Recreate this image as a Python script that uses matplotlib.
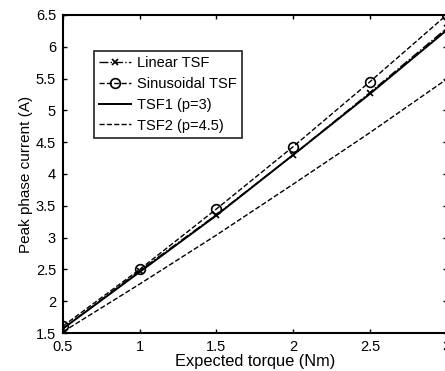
import matplotlib

matplotlib.use("Agg")
import matplotlib.pyplot as plt

plt.rcParams["font.family"] = ["Liberation Sans", "DejaVu Sans"]

torque = [0.5, 1.0, 1.5, 2.0, 2.5, 3.0]
linear_tsf = [1.57, 2.48, 3.36, 4.30, 5.28, 6.29]
sinusoidal_tsf = [1.61, 2.50, 3.45, 4.43, 5.45, 6.50]
tsf1 = [1.57, 2.46, 3.35, 4.30, 5.26, 6.26]
tsf2 = [1.52, 2.27, 3.04, 3.84, 4.65, 5.49]

x_ticks = [0.5, 1, 1.5, 2, 2.5, 3]
y_ticks = [1.5, 2, 2.5, 3, 3.5, 4, 4.5, 5, 5.5, 6, 6.5]

fig = plt.figure(figsize=(4.45, 3.71), dpi=100)
ax = fig.add_axes([0.1416, 0.1024, 0.862, 0.8572])

ax.plot(torque, linear_tsf, color="black", linestyle="-.", linewidth=1.0,
        marker="x", markersize=5, markeredgewidth=1.2, label="Linear TSF")
ax.plot(torque, sinusoidal_tsf, color="black", linestyle="--", linewidth=1.0,
        marker="o", markersize=7, markerfacecolor="none", markeredgewidth=1.2,
        label="Sinusoidal TSF")
ax.plot(torque, tsf1, color="black", linestyle="-", linewidth=1.4, label="TSF1 (p=3)")
ax.plot(torque, tsf2, color="black", linestyle="--", linewidth=1.0, label="TSF2 (p=4.5)")

ax.set_xlim(0.5, 3)
ax.set_ylim(1.5, 6.5)
ax.set_xticks(x_ticks)
ax.set_xticklabels(["0.5", "1", "1.5", "2", "2.5", "3"])
ax.set_yticks(y_ticks)
ax.set_yticklabels(["1.5", "2", "2.5", "3", "3.5", "4", "4.5", "5", "5.5", "6", "6.5"])
ax.tick_params(direction="in", top=True, right=True, length=3, width=1.0,
               labelsize=10.5, pad=5)
for spine in ax.spines.values():
    spine.set_linewidth(1.5)

ax.set_xlabel("Expected torque (Nm)", fontsize=11.8, labelpad=0)
ax.set_ylabel("Peak phase current (A)", fontsize=11, labelpad=2)

legend = ax.legend(loc="upper left", bbox_to_anchor=(0.081, 0.887), fontsize=10.5,
                   frameon=True, fancybox=False, edgecolor="black",
                   handlelength=2.2, handletextpad=0.4, borderpad=0.35,
                   labelspacing=0.47, borderaxespad=0)
legend.get_frame().set_linewidth(1.3)

fig.savefig("out.png", dpi=100)
